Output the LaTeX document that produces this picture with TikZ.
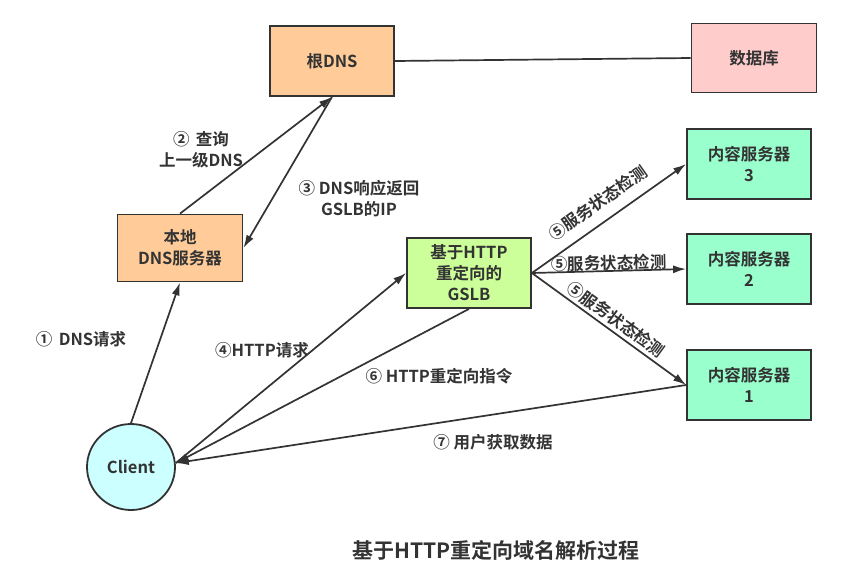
\documentclass[tikz,border=0pt]{standalone}
\usepackage{fontspec}
\setmainfont{Noto Sans CJK SC}[BoldFont={Noto Sans CJK SC Bold}]
\usetikzlibrary{arrows.meta,shapes.geometric}
\definecolor{linegray}{HTML}{333333}
\definecolor{dnsorange}{HTML}{FFCC99}
\definecolor{dbpink}{HTML}{FFCCCC}
\definecolor{gslbgreen}{HTML}{CCFF99}
\definecolor{srvmint}{HTML}{99FFCC}
\definecolor{clientcyan}{HTML}{CCFFFF}
\tikzset{
  box/.style={draw=linegray, line width=1.8pt, minimum width=124pt, minimum height=70pt,
    align=center, text=linegray, font=\bfseries\fontsize{16.5}{21}\selectfont},
  label/.style={text=linegray, align=center, font=\bfseries\fontsize{16.5}{21}\selectfont},
  arrow/.style={-{Latex[length=13pt,width=8pt]}, draw=linegray, line width=1.7pt},
  link/.style={draw=linegray, line width=1.7pt}
}
\begin{document}
\begin{tikzpicture}[x=1pt, y=-1pt]
  \useasboundingbox[fill=white] (0,0) rectangle (846,584);
  % DNS side
  \node[box, fill=dnsorange] (rootdns) at (332,61) {根DNS};
  \node[box, fill=dbpink, minimum width=125pt, minimum height=69pt] (db) at (754,58) {数据库};
  \node[box, fill=dnsorange, minimum width=125pt, minimum height=67pt] (localdns) at (180,248) {本地\\DNS服务器};
  \node[box, fill=gslbgreen, inner sep=0pt] (gslb) at (469,273) {基于HTTP\\重定向的\\GSLB};
  % content servers
  \node[box, fill=srvmint] (srv3) at (749,164) {内容服务器\\3};
  \node[box, fill=srvmint] (srv2) at (749,269) {内容服务器\\2};
  \node[box, fill=srvmint] (srv1) at (749,385) {内容服务器\\1};
  \node[ellipse, draw=linegray, line width=1.8pt, fill=clientcyan, minimum width=88pt,
    minimum height=86pt, text=linegray, font=\bfseries\fontsize{16.5}{21}\selectfont] (client) at (131,467) {Client};

  \draw[link] (rootdns.east) -- (db.west);
  \draw[arrow] (client.north) -- (localdns.south);
  \draw[arrow] (localdns.north) -- (rootdns.south);
  \draw[arrow] (rootdns.south) -- (localdns.east);
  \draw[arrow] (client.5) -- (gslb.west);
  \draw[arrow] (gslb.east) -- node[label, sloped, above=7pt] {⑤服务状态检测} (srv3.west);
  \draw[arrow] (gslb.east) -- node[label, sloped, above=-4pt] {⑤服务状态检测} (srv2.west);
  \draw[arrow] (gslb.east) -- node[label, sloped, above=0pt] {⑤服务状态检测} (srv1.west);
  \draw[arrow] (gslb.south) -- (client.5);
  \draw[arrow] (srv1.west) -- (client.5);

  % step labels
  \node[label] (l1) at (81,339) {①\, DNS请求};
  \node[label] (l2) at (201,150) {②\, 查询\\上一级DNS};
  \node[label] (l3) at (359,199) {③ DNS响应返回\\GSLB的IP};
  \node[label] (l4) at (262,350) {④HTTP请求};
  \node[label] (l6) at (439,376) {⑥ HTTP重定向指令};
  \node[label] (l7) at (493,442) {⑦ 用户获取数据};
  \node[label, font=\bfseries\fontsize{21}{25}\selectfont] (title) at (496,550) {基于HTTP重定向域名解析过程};
\end{tikzpicture}
\end{document}
